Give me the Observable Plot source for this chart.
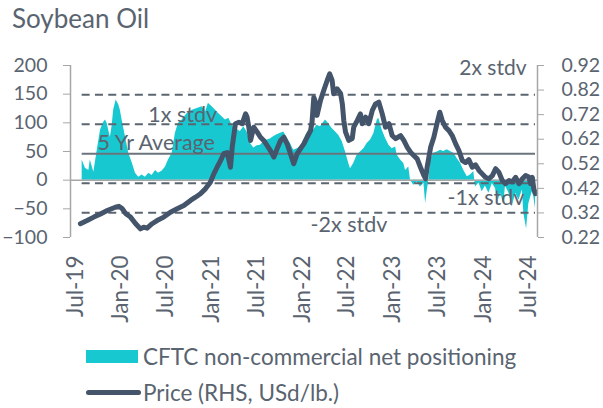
<!DOCTYPE html>
<html><head><meta charset="utf-8">
<script src="https://cdn.jsdelivr.net/npm/d3@7"></script>
<script src="https://cdn.jsdelivr.net/npm/@observablehq/plot@0.6"></script>
<style>
body{margin:0;background:#fff;font-family:Lato,sans-serif;color:#5a6470;}
#wrap{position:relative;width:603px;height:408px;overflow:hidden;}
#title{position:absolute;left:12px;top:2px;font-size:26px;}
#chart{position:absolute;left:0;top:42px;}
.leg{position:absolute;left:86px;font-size:22.5px;display:flex;align-items:center;white-space:nowrap;}
</style></head><body>
<div id="wrap">
<div id="title">Soybean Oil</div>
<div id="chart"></div>
<div class="leg" style="top:343px"><span style="display:inline-block;width:52px;height:13px;background:#18c8d0;margin-right:5px"></span>CFTC non-commercial net positioning</div>
<div class="leg" style="top:379px"><span style="display:inline-block;width:55px;height:5px;border-radius:3px;background:#44546a;margin-right:2px"></span>Price (RHS, USd/lb.)</div>
</div>
<script>
const posDates = ["2019-07-28","2019-08-10","2019-08-24","2019-08-30","2019-09-13","2019-09-27","2019-10-10","2019-10-23","2019-10-30","2019-11-06","2019-11-12","2019-11-19","2019-11-26","2019-12-02","2019-12-12","2019-12-23","2019-12-29","2020-01-05","2020-01-19","2020-02-01","2020-02-15","2020-02-28","2020-03-12","2020-03-26","2020-04-08","2020-04-22","2020-05-05","2020-05-19","2020-05-31","2020-06-15","2020-06-28","2020-07-10","2020-07-25","2020-08-07","2020-08-19","2020-09-03","2020-09-23","2020-10-14","2020-11-03","2020-11-23","2020-12-06","2020-12-18","2021-01-02","2021-01-16","2021-01-29","2021-02-12","2021-02-25","2021-03-10","2021-03-24","2021-04-06","2021-04-26","2021-05-10","2021-05-23","2021-06-06","2021-06-19","2021-07-03","2021-07-16","2021-07-29","2021-08-12","2021-08-25","2021-09-08","2021-09-21","2021-10-05","2021-10-18","2021-11-01","2021-11-14","2021-11-27","2021-12-11","2021-12-24","2022-01-07","2022-01-20","2022-02-03","2022-02-16","2022-03-01","2022-03-15","2022-04-04","2022-04-18","2022-05-01","2022-05-15","2022-05-28","2022-06-11","2022-06-24","2022-07-07","2022-07-14","2022-07-27","2022-08-10","2022-08-23","2022-09-06","2022-09-19","2022-10-03","2022-10-16","2022-10-30","2022-11-05","2022-11-19","2022-12-02","2022-12-16","2022-12-29","2023-01-12","2023-01-18","2023-02-01","2023-02-14","2023-02-21","2023-03-06","2023-03-13","2023-03-26","2023-04-09","2023-04-22","2023-05-06","2023-05-13","2023-05-19","2023-05-26","2023-06-02","2023-06-15","2023-06-29","2023-07-12","2023-07-25","2023-08-08","2023-08-21","2023-09-04","2023-09-17","2023-10-01","2023-10-14","2023-10-28","2023-11-10","2023-11-23","2023-11-30","2023-12-14","2023-12-27","2024-01-09","2024-01-23","2024-02-06","2024-02-19","2024-02-26","2024-03-10","2024-03-23","2024-03-30","2024-04-13","2024-04-26","2024-05-10","2024-05-23","2024-06-06","2024-06-12","2024-06-23","2024-07-02","2024-07-16","2024-07-22","2024-07-29"];
const posValues = [35,21,17,35,14,52,87,101,105,99,87,75,95,122,140,131,122,105,75,47,30,12,5,9,5,12,8,17,12,16,23,35,47,82,99,105,116,122,125,128,118,134,128,122,116,110,105,108,96,90,85,93,84,64,56,60,61,67,70,72,76,79,82,84,73,64,52,55,58,70,82,90,88,96,93,105,98,90,84,78,67,49,29,20,29,44,49,55,64,70,81,105,108,87,73,61,55,58,44,35,29,17,23,0,-9,-3,-12,-5,-41,-20,0,35,47,49,52,50,53,50,47,38,29,17,6,9,15,-12,-5,-20,-10,-23,-6,-15,-41,-23,-41,-10,-23,-47,-23,-35,-17,-58,-85,-41,-20,-29,-50];

const priceDates = ["2019-07-21","2019-08-17","2019-09-13","2019-10-10","2019-11-06","2019-11-26","2019-12-09","2019-12-23","2020-01-05","2020-01-19","2020-02-08","2020-02-28","2020-03-19","2020-04-01","2020-04-15","2020-05-05","2020-05-25","2020-06-21","2020-07-18","2020-08-14","2020-09-10","2020-10-07","2020-10-27","2020-11-16","2020-12-06","2020-12-26","2021-01-09","2021-01-22","2021-02-05","2021-02-18","2021-03-04","2021-03-17","2021-03-24","2021-04-06","2021-04-20","2021-05-03","2021-05-17","2021-05-23","2021-05-30","2021-06-06","2021-06-19","2021-07-03","2021-07-16","2021-07-29","2021-08-12","2021-08-25","2021-09-08","2021-09-21","2021-10-05","2021-10-18","2021-11-01","2021-11-14","2021-11-27","2021-12-11","2021-12-24","2022-01-07","2022-01-20","2022-02-03","2022-02-09","2022-02-16","2022-02-23","2022-03-01","2022-03-15","2022-03-28","2022-04-11","2022-04-21","2022-05-01","2022-05-07","2022-05-21","2022-06-04","2022-06-11","2022-06-17","2022-06-24","2022-07-07","2022-07-21","2022-07-27","2022-08-10","2022-08-23","2022-08-30","2022-09-13","2022-09-26","2022-10-10","2022-10-23","2022-11-05","2022-11-19","2022-12-02","2022-12-16","2022-12-29","2023-01-12","2023-02-01","2023-02-14","2023-02-28","2023-03-13","2023-03-26","2023-04-09","2023-04-22","2023-05-06","2023-05-13","2023-05-19","2023-06-02","2023-06-15","2023-06-29","2023-07-09","2023-07-19","2023-08-01","2023-08-15","2023-08-28","2023-09-11","2023-09-24","2023-10-08","2023-10-21","2023-11-03","2023-11-17","2023-11-30","2023-12-14","2023-12-27","2024-01-09","2024-01-23","2024-02-06","2024-02-19","2024-03-03","2024-03-17","2024-03-30","2024-04-13","2024-04-26","2024-05-10","2024-05-23","2024-06-06","2024-06-19","2024-07-02","2024-07-09","2024-07-16","2024-07-22","2024-07-29"];
const priceValues = [0.276,0.289,0.303,0.316,0.330,0.338,0.343,0.347,0.338,0.318,0.303,0.277,0.255,0.262,0.258,0.276,0.289,0.303,0.323,0.337,0.350,0.371,0.384,0.398,0.418,0.445,0.479,0.506,0.533,0.561,0.566,0.506,0.587,0.683,0.689,0.683,0.723,0.710,0.669,0.615,0.669,0.649,0.628,0.615,0.594,0.574,0.547,0.581,0.615,0.628,0.600,0.561,0.520,0.561,0.581,0.601,0.628,0.655,0.690,0.790,0.770,0.717,0.778,0.818,0.859,0.886,0.859,0.805,0.825,0.806,0.764,0.696,0.649,0.615,0.623,0.669,0.696,0.723,0.683,0.710,0.683,0.737,0.764,0.771,0.723,0.669,0.683,0.635,0.622,0.635,0.615,0.587,0.567,0.554,0.540,0.506,0.472,0.459,0.506,0.587,0.628,0.689,0.730,0.696,0.669,0.655,0.635,0.601,0.574,0.533,0.525,0.537,0.506,0.516,0.493,0.479,0.465,0.459,0.472,0.500,0.486,0.452,0.439,0.452,0.446,0.465,0.439,0.459,0.472,0.466,0.439,0.465,0.418,0.398];

const xTickDates = ["2019-07-01","2020-01-01","2020-07-01","2021-01-01","2021-07-01","2022-01-01","2022-07-01","2023-01-01","2023-07-01","2024-01-01","2024-07-01"];
const xTickLabels = ["Jul-19","Jan-20","Jul-20","Jan-21","Jul-21","Jan-22","Jul-22","Jan-23","Jul-23","Jan-24","Jul-24"];
const leftTicks = [-100,-50,0,50,100,150,200];
const priceTicks = [0.22,0.32,0.42,0.52,0.62,0.72,0.82,0.92];

const avgValue = 46;
const stdvNames = ["2x stdv","1x stdv","-1x stdv","-2x stdv"];
const stdvValues = [149,97.5,-5.5,-57];

const noteTexts = ["2x stdv","1x stdv","5 Yr Average","-1x stdv","-2x stdv"];
const noteDates = ["2024-06-23","2020-04-20","2019-09-28","2023-08-09","2022-02-03"];
const noteValues = [195,113,64.5,-31,-78.5];
const noteAnchors = ["end","start","start","start","start"];

const priceMin = 0.22, priceMax = 0.92, yMin = -100, yMax = 200;
const toY = p => yMin + (p - priceMin) / (priceMax - priceMin) * (yMax - yMin);

const pos = posDates.map((d,i)=>({date:new Date(d), value:posValues[i]}));
const price = priceDates.map((d,i)=>({date:new Date(d), value:toY(priceValues[i])}));
const xStart = new Date("2019-06-11"), xEnd = new Date("2024-08-06");
const first = pos[0].date, last = pos[pos.length-1].date;
const stdv = stdvValues.map((v,i)=>({name:stdvNames[i], value:v}));
const notes = noteTexts.map((t,i)=>({text:t, date:new Date(noteDates[i]), value:noteValues[i], anchor:noteAnchors[i]}));
const xTicks = xTickDates.map(d=>new Date(d));

const grey = "#a6a6a6", txt = "#5a6470";
const chart = Plot.plot({
  width: 603, height: 300,
  marginLeft: 70, marginRight: 66, marginTop: 23, marginBottom: 105,
  style: {fontFamily: "Lato, sans-serif", fontSize: "19px", color: txt, background: "transparent", overflow: "visible"},
  x: {type: "utc", domain: [xStart, xEnd]},
  y: {domain: [yMin, yMax]},
  marks: [
    Plot.areaY(pos, {x:"date", y:"value", fill:"#18c8d0"}),
    Plot.ruleY([0], {stroke: grey, strokeWidth: 1.5}),
    Plot.ruleY(stdv, {y:"value", x1: first, x2: last, stroke:"#5b6570", strokeWidth: 2, strokeDasharray: "8,5.3"}),
    Plot.ruleY([avgValue], {x1: first, x2: last, stroke:"#6b737d", strokeWidth: 2}),
    Plot.text(notes.filter(d=>d.anchor==="start"), {x:"date", y:"value", text:"text", textAnchor:"start", fill: txt, fontSize: 21.5}),
    Plot.text(notes.filter(d=>d.anchor==="end"), {x:"date", y:"value", text:"text", textAnchor:"end", fill: txt, fontSize: 21}),
    Plot.line(price, {x:"date", y:"value", stroke:"#44546a", strokeWidth: 5, strokeLinejoin:"round", strokeLinecap:"round"}),
    Plot.ruleX([xStart], {stroke: grey, strokeWidth: 1.5}),
    Plot.ruleX([xEnd], {stroke: grey, strokeWidth: 1.5}),
    Plot.axisY(leftTicks, {anchor:"left", tickSize: 7, tickPadding: 16, stroke: grey, fill: txt, label: null, fontSize: 19.5}),
    Plot.axisY(priceTicks.map(toY), {anchor:"right", tickSize: 6, tickPadding: 18, stroke: grey, fill: txt, label: null, fontSize: 19.5, tickFormat: (d,i)=>priceTicks[i].toFixed(2)}),
    Plot.axisX(xTicks, {anchor:"bottom", tickSize: 0, tickPadding: 18, tickRotate: -90, fill: txt, label: null, fontSize: 22.5, tickFormat: (d,i)=>xTickLabels[i]})
  ]
});
document.getElementById("chart").appendChild(chart);
</script>
</body></html>
